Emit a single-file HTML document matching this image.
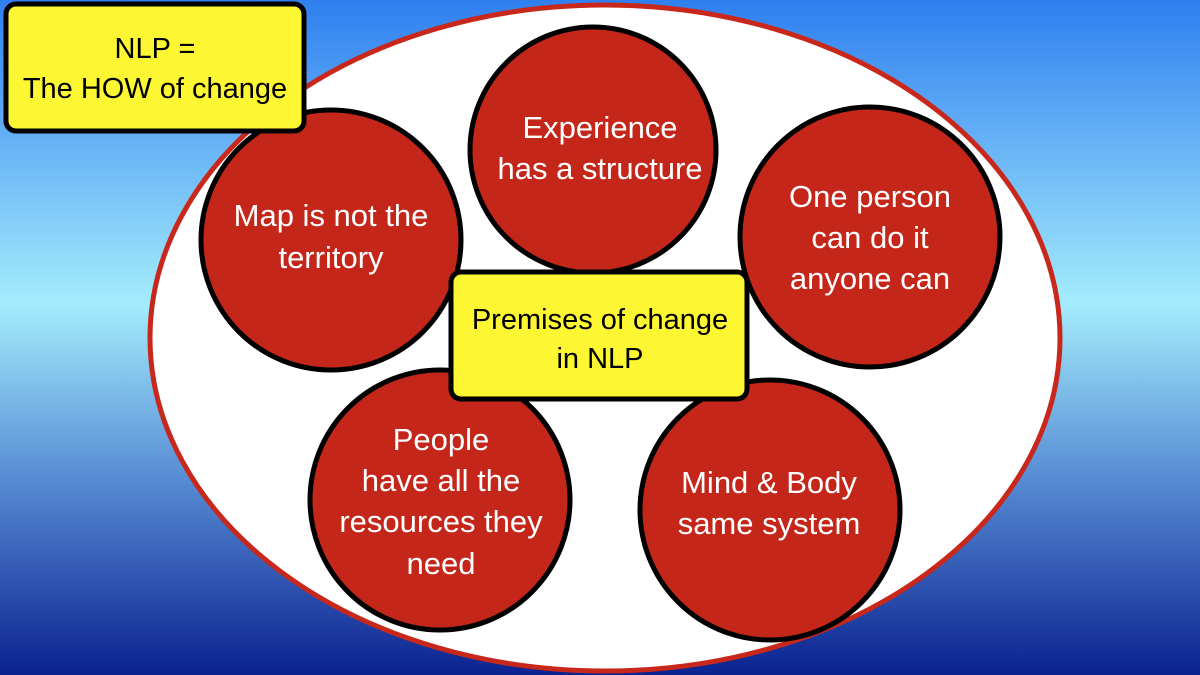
<!DOCTYPE html>
<html><head><style>
body{margin:0;width:1200px;height:675px;overflow:hidden;}
text{font-family:"Liberation Sans",Arial,sans-serif;}
</style></head><body>
<svg width="1200" height="675" xmlns="http://www.w3.org/2000/svg" style="display:block">
<defs>
<linearGradient id="bg" x1="0" y1="0" x2="0" y2="1">
<stop offset="0" stop-color="#2f7ff0"/>
<stop offset="0.45" stop-color="#a4ecfc"/>
<stop offset="0.7" stop-color="#5a8fd6"/>
<stop offset="1" stop-color="#0a2290"/>
</linearGradient>
</defs>
<rect width="1200" height="675" fill="url(#bg)"/>
<ellipse cx="605" cy="338" rx="455" ry="333" fill="#fff" stroke="#c8281c" stroke-width="5"/>
<g fill="#c4261a" stroke="#000" stroke-width="5">
<circle cx="331" cy="240" r="130"/>
<circle cx="593" cy="150" r="123"/>
<circle cx="870" cy="237" r="130"/>
<circle cx="440" cy="500" r="130"/>
<circle cx="770" cy="510" r="130"/>
</g>
<g fill="#fff" font-size="31" text-anchor="middle">
<text x="331" y="226">Map is not the</text><text x="331" y="268">territory</text>
<text x="600" y="138">Experience</text><text x="600" y="179">has a structure</text>
<text x="870" y="207">One person</text><text x="870" y="248">can do it</text><text x="870" y="289">anyone can</text>
<text x="441" y="450">People</text><text x="441" y="491">have all the</text><text x="441" y="532">resources they</text><text x="441" y="574">need</text>
<text x="769" y="493">Mind &amp; Body</text><text x="769" y="534">same system</text>
</g>
<rect x="451" y="272" width="296" height="127" rx="10" fill="#fdf632" stroke="#000" stroke-width="5"/>
<rect x="6" y="4" width="298" height="127" rx="10" fill="#fdf632" stroke="#000" stroke-width="5"/>
<g fill="#000" font-size="29" text-anchor="middle">
<text x="600" y="329">Premises of change</text><text x="600" y="368">in NLP</text>
<text x="155" y="58">NLP =</text><text x="155" y="98">The HOW of change</text>
</g>
</svg>
</body></html>
